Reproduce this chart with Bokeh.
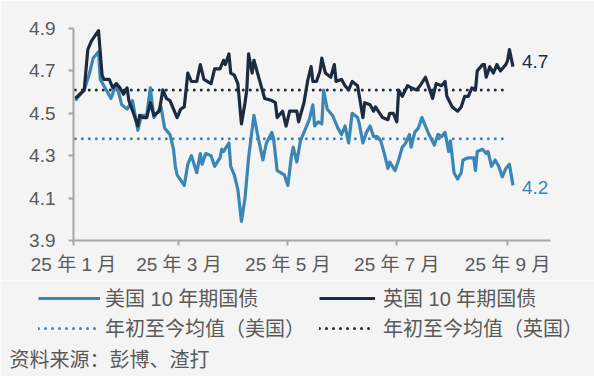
import pandas as pd
from bokeh.plotting import figure
from bokeh.layouts import column
from bokeh.models import (FixedTicker, NumeralTickFormatter, Range1d, Legend,
                          LegendItem, Label)
from bokeh.embed import file_html
from bokeh.resources import INLINE

# ---------------- data ----------------
us_dates = [
    "2025-01-02", "2025-01-07", "2025-01-10", "2025-01-12", "2025-01-15", "2025-01-16",
    "2025-01-18", "2025-01-22", "2025-01-25", "2025-01-28", "2025-01-31", "2025-02-03",
    "2025-02-06", "2025-02-08", "2025-02-11", "2025-02-13", "2025-02-15", "2025-02-19",
    "2025-02-21", "2025-02-24", "2025-02-26", "2025-02-27", "2025-02-28", "2025-03-04",
    "2025-03-06", "2025-03-08", "2025-03-11", "2025-03-13", "2025-03-14", "2025-03-16",
    "2025-03-19", "2025-03-21", "2025-03-24", "2025-03-25", "2025-03-26", "2025-03-29",
    "2025-03-30", "2025-04-01", "2025-04-03", "2025-04-05", "2025-04-07", "2025-04-09",
    "2025-04-12", "2025-04-14", "2025-04-17", "2025-04-19", "2025-04-22", "2025-04-23",
    "2025-04-25", "2025-04-29", "2025-05-01", "2025-05-03", "2025-05-04", "2025-05-06",
    "2025-05-08", "2025-05-11", "2025-05-13", "2025-05-15", "2025-05-16", "2025-05-18",
    "2025-05-20", "2025-05-21", "2025-05-23", "2025-05-26", "2025-05-27", "2025-05-29",
    "2025-05-31", "2025-06-02", "2025-06-04", "2025-06-06", "2025-06-09", "2025-06-10",
    "2025-06-12", "2025-06-14", "2025-06-16", "2025-06-18", "2025-06-20", "2025-06-22",
    "2025-06-24", "2025-06-26", "2025-06-27", "2025-06-30", "2025-07-02", "2025-07-04",
    "2025-07-06", "2025-07-08", "2025-07-09", "2025-07-11", "2025-07-13", "2025-07-15",
    "2025-07-17", "2025-07-19", "2025-07-22", "2025-07-24", "2025-07-26", "2025-07-28",
    "2025-07-30", "2025-07-31", "2025-08-02", "2025-08-04", "2025-08-06", "2025-08-07",
    "2025-08-10", "2025-08-13", "2025-08-14", "2025-08-15", "2025-08-18", "2025-08-20",
    "2025-08-21", "2025-08-23", "2025-08-25", "2025-08-27", "2025-08-29", "2025-08-31",
    "2025-09-02", "2025-09-04",
]
us_yield = [
    4.56, 4.61, 4.69, 4.76, 4.79, 4.66,
    4.63, 4.57, 4.64, 4.54, 4.52, 4.56,
    4.42, 4.49, 4.49, 4.62, 4.48, 4.53,
    4.43, 4.40, 4.33, 4.25, 4.21, 4.16,
    4.26, 4.30, 4.22, 4.31, 4.26, 4.31,
    4.30, 4.25, 4.29, 4.33, 4.32, 4.36,
    4.25, 4.21, 4.14, 3.99, 4.10, 4.29,
    4.49, 4.40, 4.28, 4.36, 4.41, 4.38,
    4.23, 4.21, 4.16, 4.30, 4.34, 4.27,
    4.37, 4.43, 4.47, 4.54, 4.44, 4.46,
    4.45, 4.61, 4.52, 4.49, 4.47, 4.43,
    4.40, 4.44, 4.36, 4.50, 4.48, 4.45,
    4.36, 4.41, 4.44, 4.39, 4.39, 4.37,
    4.31, 4.24, 4.27, 4.23, 4.28, 4.34,
    4.36, 4.40, 4.34, 4.41, 4.43, 4.48,
    4.44, 4.40, 4.35, 4.40, 4.39, 4.41,
    4.32, 4.37, 4.22, 4.19, 4.22, 4.28,
    4.29, 4.29, 4.23, 4.32, 4.33, 4.31,
    4.32, 4.25, 4.28, 4.25, 4.20, 4.24,
    4.26, 4.16,
]

uk_dates = [
    "2025-01-02", "2025-01-07", "2025-01-09", "2025-01-11", "2025-01-15", "2025-01-17",
    "2025-01-18", "2025-01-21", "2025-01-23", "2025-01-25", "2025-01-27", "2025-01-29",
    "2025-01-31", "2025-02-01", "2025-02-04", "2025-02-06", "2025-02-07", "2025-02-09",
    "2025-02-11", "2025-02-13", "2025-02-15", "2025-02-18", "2025-02-20", "2025-02-22",
    "2025-02-24", "2025-02-26", "2025-02-28", "2025-03-02", "2025-03-04", "2025-03-06",
    "2025-03-08", "2025-03-11", "2025-03-13", "2025-03-15", "2025-03-19", "2025-03-21",
    "2025-03-24", "2025-03-26", "2025-03-27", "2025-03-29", "2025-03-30", "2025-04-01",
    "2025-04-03", "2025-04-05", "2025-04-07", "2025-04-08", "2025-04-09", "2025-04-11",
    "2025-04-12", "2025-04-15", "2025-04-18", "2025-04-22", "2025-04-24", "2025-04-25",
    "2025-04-28", "2025-04-30", "2025-05-02", "2025-05-06", "2025-05-07", "2025-05-10",
    "2025-05-12", "2025-05-14", "2025-05-15", "2025-05-17", "2025-05-19", "2025-05-20",
    "2025-05-22", "2025-05-25", "2025-05-27", "2025-05-28", "2025-05-31", "2025-06-02",
    "2025-06-04", "2025-06-06", "2025-06-09", "2025-06-10", "2025-06-12", "2025-06-13",
    "2025-06-16", "2025-06-18", "2025-06-19", "2025-06-23", "2025-06-26", "2025-06-27",
    "2025-06-29", "2025-07-01", "2025-07-02", "2025-07-04", "2025-07-07", "2025-07-09",
    "2025-07-12", "2025-07-14", "2025-07-17", "2025-07-19", "2025-07-21", "2025-07-23",
    "2025-07-26", "2025-07-28", "2025-07-29", "2025-08-01", "2025-08-04", "2025-08-06",
    "2025-08-08", "2025-08-10", "2025-08-12", "2025-08-14", "2025-08-15", "2025-08-18",
    "2025-08-19", "2025-08-20", "2025-08-22", "2025-08-24", "2025-08-26", "2025-08-28",
    "2025-08-31", "2025-09-01", "2025-09-02", "2025-09-04",
]
uk_yield = [
    4.57, 4.61, 4.80, 4.84, 4.89, 4.68,
    4.66, 4.66, 4.62, 4.64, 4.62, 4.59,
    4.62, 4.56, 4.49, 4.44, 4.49, 4.48,
    4.48, 4.55, 4.49, 4.51, 4.61, 4.57,
    4.56, 4.52, 4.48, 4.52, 4.53, 4.69,
    4.65, 4.65, 4.73, 4.66, 4.64, 4.71,
    4.71, 4.75, 4.73, 4.78, 4.69, 4.68,
    4.64, 4.45, 4.55, 4.61, 4.78, 4.69,
    4.75, 4.66, 4.57, 4.56, 4.55, 4.48,
    4.51, 4.44, 4.51, 4.51, 4.46, 4.55,
    4.65, 4.72, 4.65, 4.65, 4.70, 4.76,
    4.69, 4.67, 4.73, 4.65, 4.66, 4.63,
    4.61, 4.65, 4.63, 4.58, 4.48, 4.55,
    4.54, 4.51, 4.53, 4.48, 4.47, 4.50,
    4.50, 4.46, 4.61, 4.58, 4.63, 4.62,
    4.61, 4.63, 4.67, 4.62, 4.57, 4.64,
    4.63, 4.65, 4.58, 4.53, 4.51, 4.53,
    4.58, 4.58, 4.62, 4.61, 4.70, 4.73,
    4.73, 4.67, 4.72, 4.69, 4.73, 4.70,
    4.73, 4.75, 4.80, 4.72,
]

us_avg = 4.38
uk_avg = 4.61
avg_span = ["2025-01-02", "2025-09-01"]

tick_months = ["2025-01-01", "2025-03-01", "2025-05-01", "2025-07-01", "2025-09-01"]
tick_labels = ["25 年 1 月", "25 年 3 月", "25 年 5 月", "25 年 7 月", "25 年 9 月"]
y_ticks = [3.9, 4.1, 4.3, 4.5, 4.7, 4.9]

series_names = ["美国 10 年期国债", "英国 10 年期国债",
                "年初至今均值（美国）", "年初至今均值（英国）"]
source_text = "资料来源：彭博、渣打"

# ---------------- styling ----------------
US_COLOR = "#3a86b6"
UK_COLOR = "#1c2b40"
BG = "#f4f4f4"
TEXT = "#595959"
AXIS = "#a6a6a6"
FONT = "Liberation Sans, Noto Sans CJK SC"
LW = 3.2
AVG_DASH = "0 7"

us_x = pd.to_datetime(us_dates)
uk_x = pd.to_datetime(uk_dates)
span_x = pd.to_datetime(avg_span)

# ---------------- main chart ----------------
p = figure(width=594, height=280, x_axis_type="datetime",
           x_range=Range1d(pd.Timestamp("2025-01-01"), pd.Timestamp("2025-09-25")),
           y_range=Range1d(3.9, 4.9),
           output_backend="svg", toolbar_location=None,
           min_border_left=73, min_border_right=44,
           min_border_top=28, min_border_bottom=40,
           background_fill_color=BG, border_fill_color=BG)
p.outline_line_color = None
p.xgrid.visible = False
p.ygrid.visible = False

p.line(span_x, [us_avg, us_avg], line_color=US_COLOR, line_width=3,
       line_dash=AVG_DASH, line_cap="round")
p.line(span_x, [uk_avg, uk_avg], line_color=UK_COLOR, line_width=3,
       line_dash=AVG_DASH, line_cap="round")
p.line(us_x, us_yield, line_color=US_COLOR, line_width=LW, line_join="round")
p.line(uk_x, uk_yield, line_color=UK_COLOR, line_width=LW, line_join="round")

tick_vals = [pd.Timestamp(t).value / 1e6 for t in tick_months]
p.xaxis.ticker = FixedTicker(ticks=tick_vals)
p.xaxis.major_label_overrides = {v: lab for v, lab in zip(tick_vals, tick_labels)}
p.yaxis.ticker = FixedTicker(ticks=y_ticks)
p.yaxis.formatter = NumeralTickFormatter(format="0.0")

for ax in (p.xaxis, p.yaxis):
    ax.axis_line_color = AXIS
    ax.axis_line_width = 2
    ax.major_tick_line_color = AXIS
    ax.major_tick_line_width = 2
    ax.major_tick_in = 0
    ax.major_tick_out = 5
    ax.minor_tick_line_color = None
    ax.major_label_text_font = FONT
    ax.major_label_text_font_size = "19px"
    ax.major_label_text_color = TEXT
p.yaxis.major_label_standoff = 13
p.xaxis.major_label_standoff = 8

# end-of-line value labels
p.add_layout(Label(x=uk_x[-1], y=uk_yield[-1], text=f"{uk_yield[-1]:.1f}",
                   x_offset=9, y_offset=5, text_baseline="middle",
                   text_font=FONT, text_font_size="19px", text_color=UK_COLOR))
p.add_layout(Label(x=us_x[-1], y=us_yield[-1], text=f"{us_yield[-1]:.1f}",
                   x_offset=9, y_offset=-2, text_baseline="middle",
                   text_font=FONT, text_font_size="19px", text_color=US_COLOR))

# ---------------- legend + source strip ----------------
q = figure(width=594, height=96, x_range=Range1d(0, 1), y_range=Range1d(0, 1),
           output_backend="svg", toolbar_location=None,
           x_axis_location=None, y_axis_location=None,
           min_border=0, background_fill_color=BG, border_fill_color=BG)
q.outline_line_color = None
q.xgrid.visible = False
q.ygrid.visible = False

for fig in (p, q):
    if "frame_align" in fig.properties():
        fig.frame_align = False

# hidden copies of the series: they only give the legend its sample styles
k_us = q.line(us_x, us_yield, line_color=US_COLOR, line_width=LW, visible=False)
k_uk = q.line(uk_x, uk_yield, line_color=UK_COLOR, line_width=LW, visible=False)
k_us_avg = q.line(span_x, [us_avg, us_avg], line_color=US_COLOR, line_width=3,
                  line_dash=AVG_DASH, line_cap="round", visible=False)
k_uk_avg = q.line(span_x, [uk_avg, uk_avg], line_color=UK_COLOR, line_width=3,
                  line_dash=AVG_DASH, line_cap="round", visible=False)


def make_legend(items, loc, gw, standoff):
    return Legend(items=items, location=loc, orientation="vertical",
                  label_text_font=FONT, label_text_font_size="20px",
                  label_text_color=TEXT, glyph_width=gw, glyph_height=20,
                  label_height=20, spacing=1, padding=0, margin=0,
                  border_line_color=None, background_fill_alpha=0,
                  inactive_fill_alpha=0, label_standoff=standoff)


q.add_layout(make_legend([LegendItem(label=series_names[0], renderers=[k_us]),
                          LegendItem(label=series_names[2], renderers=[k_us_avg])],
                         (38, 34), 62, 5))
q.add_layout(make_legend([LegendItem(label=series_names[1], renderers=[k_uk]),
                          LegendItem(label=series_names[3], renderers=[k_uk_avg])],
                         (319, 34), 56, 8))

q.add_layout(Label(x=9, y=17, x_units="screen", y_units="screen",
                   text=source_text, text_baseline="middle",
                   text_font=FONT, text_font_size="20px", text_color=TEXT))

layout = column(p, q, spacing=0)
open("out.html", "w").write(file_html(layout, INLINE))
